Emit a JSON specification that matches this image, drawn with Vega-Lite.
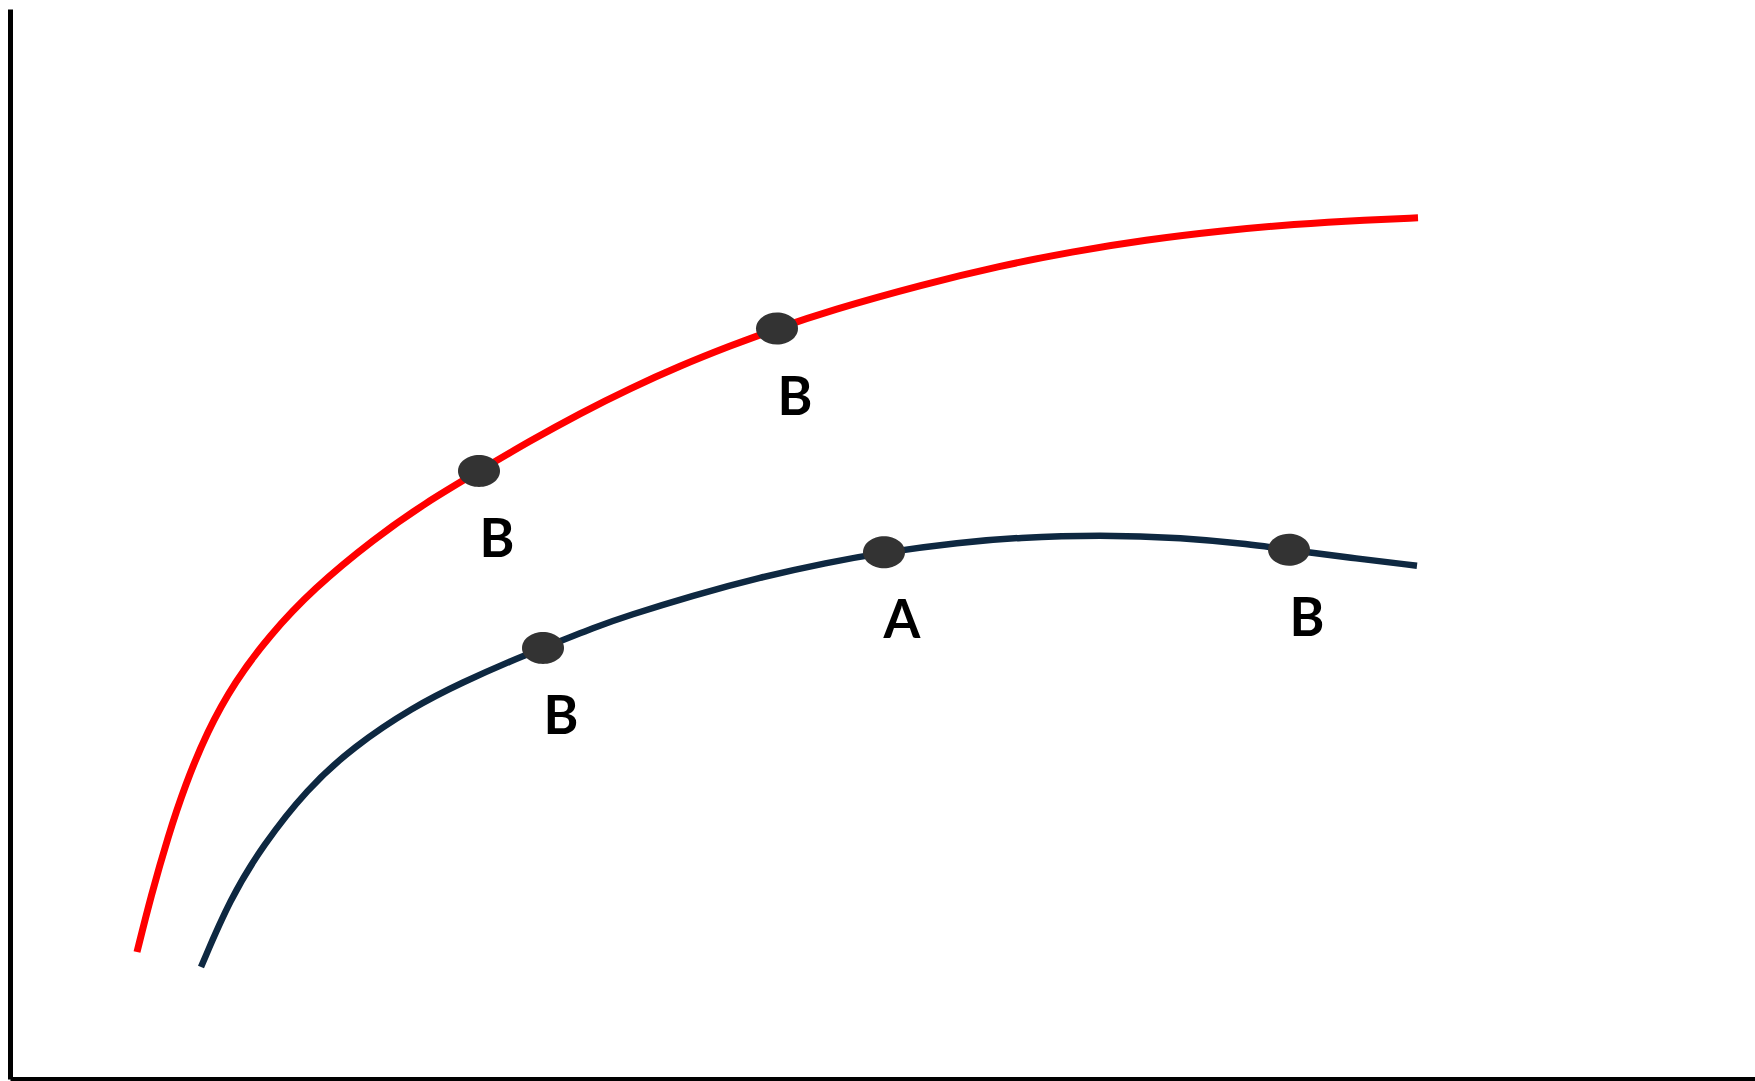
{
  "$schema": "https://vega.github.io/schema/vega-lite/v6.json",
  "width": 1745,
  "height": 1070,
  "autosize": {"type": "none"},
  "padding": {"left": 10, "top": 9, "right": 0, "bottom": 2},
  "background": "white",
  "config": {"view": {"stroke": null}},
  "datasets": {
    "curves": [
      {"curve": "upper", "x": 7.278, "y": 11.869},
      {"curve": "upper", "x": 8.08, "y": 17.103},
      {"curve": "upper", "x": 9.054, "y": 22.664},
      {"curve": "upper", "x": 10.029, "y": 27.43},
      {"curve": "upper", "x": 11.289, "y": 32.467},
      {"curve": "upper", "x": 12.894, "y": 37.178},
      {"curve": "upper", "x": 14.842, "y": 41.402},
      {"curve": "upper", "x": 17.364, "y": 45.804},
      {"curve": "upper", "x": 20.917, "y": 50.551},
      {"curve": "upper", "x": 23.782, "y": 53.822},
      {"curve": "upper", "x": 26.877, "y": 56.822},
      {"curve": "upper", "x": 29.799, "y": 59.636},
      {"curve": "upper", "x": 32.665, "y": 62.206},
      {"curve": "upper", "x": 35.53, "y": 64.542},
      {"curve": "upper", "x": 38.395, "y": 66.645},
      {"curve": "upper", "x": 41.261, "y": 68.514},
      {"curve": "upper", "x": 43.954, "y": 70.14},
      {"curve": "upper", "x": 46.991, "y": 71.822},
      {"curve": "upper", "x": 52.378, "y": 74.28},
      {"curve": "upper", "x": 56.619, "y": 75.944},
      {"curve": "upper", "x": 60.86, "y": 77.327},
      {"curve": "upper", "x": 65.1, "y": 78.43},
      {"curve": "upper", "x": 69.341, "y": 79.262},
      {"curve": "upper", "x": 73.582, "y": 79.888},
      {"curve": "upper", "x": 77.822, "y": 80.299},
      {"curve": "upper", "x": 80.688, "y": 80.486},
      {"curve": "lower", "x": 10.946, "y": 10.467},
      {"curve": "lower", "x": 12.607, "y": 16.822},
      {"curve": "lower", "x": 14.499, "y": 21.869},
      {"curve": "lower", "x": 17.02, "y": 27.103},
      {"curve": "lower", "x": 19.656, "y": 31.028},
      {"curve": "lower", "x": 23.095, "y": 34.766},
      {"curve": "lower", "x": 25.96, "y": 37.103},
      {"curve": "lower", "x": 28.825, "y": 39.159},
      {"curve": "lower", "x": 30.544, "y": 40.28},
      {"curve": "lower", "x": 33.639, "y": 42.299},
      {"curve": "lower", "x": 35.358, "y": 43.28},
      {"curve": "lower", "x": 39.14, "y": 45.196},
      {"curve": "lower", "x": 42.98, "y": 46.888},
      {"curve": "lower", "x": 46.819, "y": 48.262},
      {"curve": "lower", "x": 50.086, "y": 49.224},
      {"curve": "lower", "x": 54.441, "y": 50.15},
      {"curve": "lower", "x": 57.708, "y": 50.598},
      {"curve": "lower", "x": 62.464, "y": 50.869},
      {"curve": "lower", "x": 67.221, "y": 50.598},
      {"curve": "lower", "x": 71.06, "y": 49.972},
      {"curve": "lower", "x": 73.295, "y": 49.458},
      {"curve": "lower", "x": 76.791, "y": 48.72},
      {"curve": "lower", "x": 80.63, "y": 47.972}
    ],
    "markers": [
      {"curve": "upper", "label": "B", "x": 26.877, "y": 56.822},
      {"curve": "upper", "label": "B", "x": 43.954, "y": 70.14},
      {"curve": "lower", "label": "B", "x": 30.544, "y": 40.28},
      {"curve": "lower", "label": "A", "x": 50.086, "y": 49.224},
      {"curve": "lower", "label": "B", "x": 73.295, "y": 49.458}
    ]
  },
  "encoding": {
    "x": {
      "field": "x",
      "type": "quantitative",
      "scale": {"domain": [0, 100], "nice": false, "zero": false},
      "axis": {"title": null, "labels": false, "ticks": false, "grid": false, "domainColor": "black", "domainWidth": 5}
    },
    "y": {
      "field": "y",
      "type": "quantitative",
      "scale": {"domain": [0, 100], "nice": false, "zero": false},
      "axis": {"title": null, "labels": false, "ticks": false, "grid": false, "domainColor": "black", "domainWidth": 5}
    }
  },
  "layer": [
    {
      "data": {"name": "curves"},
      "mark": {"type": "line", "interpolate": "basis", "strokeCap": "butt"},
      "encoding": {
        "detail": {"field": "curve"},
        "color": {
          "field": "curve",
          "type": "nominal",
          "scale": {"domain": ["upper", "lower"], "range": ["#ff0000", "#0e2841"]},
          "legend": null
        },
        "strokeWidth": {
          "field": "curve",
          "type": "nominal",
          "scale": {"domain": ["upper", "lower"], "range": [7, 6.5]},
          "legend": null
        }
      }
    },
    {
      "data": {"name": "markers"},
      "mark": {
        "type": "point",
        "filled": true,
        "opacity": 1,
        "color": "#333333",
        "size": 1764,
        "shape": "M-1,0A1,0.76 0 1,0 1,0A1,0.76 0 1,0 -1,0Z"
      }
    },
    {
      "data": {"name": "markers"},
      "mark": {
        "type": "text",
        "font": "Lato",
        "fontWeight": "bold",
        "fontSize": 53,
        "color": "black",
        "align": "center",
        "baseline": "alphabetic",
        "dx": 18,
        "dy": 86
      },
      "encoding": {"text": {"field": "label"}}
    }
  ]
}
